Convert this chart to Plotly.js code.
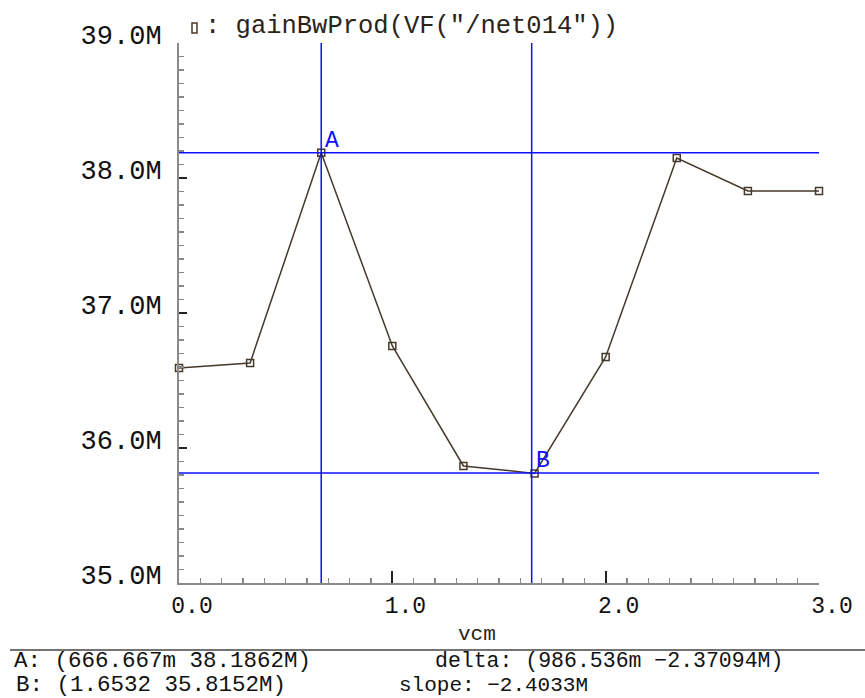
<!DOCTYPE html>
<html>
<head>
<meta charset="utf-8">
<script src="https://cdn.plot.ly/plotly-3.0.1.min.js"></script>
<style>
  html, body { margin: 0; padding: 0; background: #ffffff; }
  #plot { width: 865px; height: 698px; }
</style>
</head>
<body>
<div id="plot"></div>
<script>
// Sweep of the common-mode voltage and the resulting gain-bandwidth product
const vcm = [0, 0.333333, 0.666667, 1.0, 1.333333, 1.666667, 2.0, 2.333333, 2.666667, 3.0];
const gbw = [36.593e6, 36.630e6, 38.1862e6, 36.756e6, 35.867e6, 35.812e6, 36.674e6, 38.148e6, 37.904e6, 37.904e6];

// Marker cursors A and B
const cursorNames = ['A', 'B'];
const cursorX = [0.666667, 1.6532];
const cursorY = [38.1862e6, 35.8152e6];

// Readout lines under the plot
const readA = 'A: (666.667m 38.1862M)';
const readB = 'B: (1.6532 35.8152M)';
const readDelta = 'delta: (986.536m \u22122.37094M)';
const readSlope = 'slope: \u22122.4033M';

const traceName = 'gainBwProd(VF("/net014"))';
const xLabel = 'vcm';

const W = 865, H = 698;
const M = { l: 179, r: 46, t: 43, b: 115 };
const PW = W - M.l - M.r, PH = H - M.t - M.b;
// pixel -> paper helpers for the decorations around the plot area
const px = v => (v - M.l) / PW;
const py = v => (H - M.b - v) / PH;

const FONT = 'Liberation Mono, DejaVu Sans Mono, monospace';
const INK = '#2a2418';
const WAVE = '#46392a';
const CURSOR = '#1010ff';

const trace = {
  x: vcm, y: gbw, type: 'scatter', mode: 'lines+markers',
  line: { color: WAVE, width: 1.5 },
  marker: { symbol: 'square-open', size: 7, color: WAVE, line: { color: WAVE, width: 1.5 } },
  cliponaxis: false, showlegend: false, hoverinfo: 'skip'
};

const shapes = [];
cursorNames.forEach((n, i) => {
  shapes.push({ type: 'line', xref: 'x', yref: 'paper', x0: cursorX[i], x1: cursorX[i], y0: 0, y1: 1,
                line: { color: CURSOR, width: 1.5 } });
  shapes.push({ type: 'line', xref: 'paper', yref: 'y', x0: 0, x1: 1, y0: cursorY[i], y1: cursorY[i],
                line: { color: CURSOR, width: 1.5 } });
});
// legend swatch before the trace name
shapes.push({ type: 'rect', xref: 'paper', yref: 'paper', x0: px(192), x1: px(197), y0: py(33), y1: py(23),
              line: { color: WAVE, width: 1.5 }, fillcolor: 'rgba(0,0,0,0)' });
// separator above the cursor readout
shapes.push({ type: 'line', xref: 'paper', yref: 'paper', x0: px(10), x1: px(865), y0: py(650), y1: py(650),
              line: { color: '#444', width: 1.5 } });

const annotations = [];
cursorNames.forEach((n, i) => {
  annotations.push({ x: cursorX[i], y: cursorY[i], xref: 'x', yref: 'y', text: n, showarrow: false,
                     xanchor: 'left', yanchor: 'bottom', xshift: i === 0 ? 2 : 2, yshift: -3,
                     font: { family: FONT, size: 23, color: CURSOR } });
});
annotations.push({ x: px(203), y: py(26), xref: 'paper', yref: 'paper', text: ': ' + traceName,
                   showarrow: false, xanchor: 'left', yanchor: 'middle', font: { family: FONT, size: 25.5, color: INK } });
annotations.push({ x: px(477), y: py(634), xref: 'paper', yref: 'paper', text: xLabel, showarrow: false,
                   xanchor: 'center', yanchor: 'middle', font: { family: FONT, size: 21, color: INK } });
annotations.push({ x: px(12), y: py(661), xref: 'paper', yref: 'paper', text: readA, showarrow: false,
                   xanchor: 'left', yanchor: 'middle', font: { family: FONT, size: 22.5, color: '#111' } });
annotations.push({ x: px(14), y: py(685), xref: 'paper', yref: 'paper', text: readB, showarrow: false,
                   xanchor: 'left', yanchor: 'middle', font: { family: FONT, size: 22.5, color: '#111' } });
annotations.push({ x: px(433), y: py(661), xref: 'paper', yref: 'paper', text: readDelta, showarrow: false,
                   xanchor: 'left', yanchor: 'middle', font: { family: FONT, size: 21.5, color: '#111' } });
annotations.push({ x: px(397), y: py(685), xref: 'paper', yref: 'paper', text: readSlope, showarrow: false,
                   xanchor: 'left', yanchor: 'middle', font: { family: FONT, size: 21, color: '#111' } });

const layout = {
  width: W, height: H, margin: M,
  paper_bgcolor: '#ffffff', plot_bgcolor: '#ffffff',
  showlegend: false,
  xaxis: {
    range: [0, 3], tick0: 0, dtick: 1, tickformat: '.1f',
    ticks: 'inside', ticklen: 12, tickwidth: 2, tickcolor: '#222',
    minor: { dtick: 0.1, ticks: 'inside', ticklen: 5, tickwidth: 1.5, tickcolor: '#888' },
    showline: true, linecolor: '#8a8a8a', linewidth: 2, mirror: false,
    showgrid: false, zeroline: false, fixedrange: true,
    ticklabelshift: 13, ticklabelstandoff: 0,
    tickfont: { family: FONT, size: 23, color: '#111' }
  },
  yaxis: {
    range: [35e6, 39e6], tick0: 35e6, dtick: 1e6, tickformat: '.3s',
    ticks: 'inside', ticklen: 8, tickwidth: 2, tickcolor: '#222',
    minor: { dtick: 1e5, ticks: 'inside', ticklen: 5, tickwidth: 1.5, tickcolor: '#888' },
    showline: true, linecolor: '#8a8a8a', linewidth: 2, mirror: false,
    showgrid: false, zeroline: false, fixedrange: true,
    ticklabelshift: -8, ticklabelstandoff: 10,
    tickfont: { family: FONT, size: 27, color: '#111' }
  },
  shapes: shapes,
  annotations: annotations
};

Plotly.newPlot('plot', [trace], layout, { displayModeBar: false, staticPlot: true });
</script>
</body>
</html>
